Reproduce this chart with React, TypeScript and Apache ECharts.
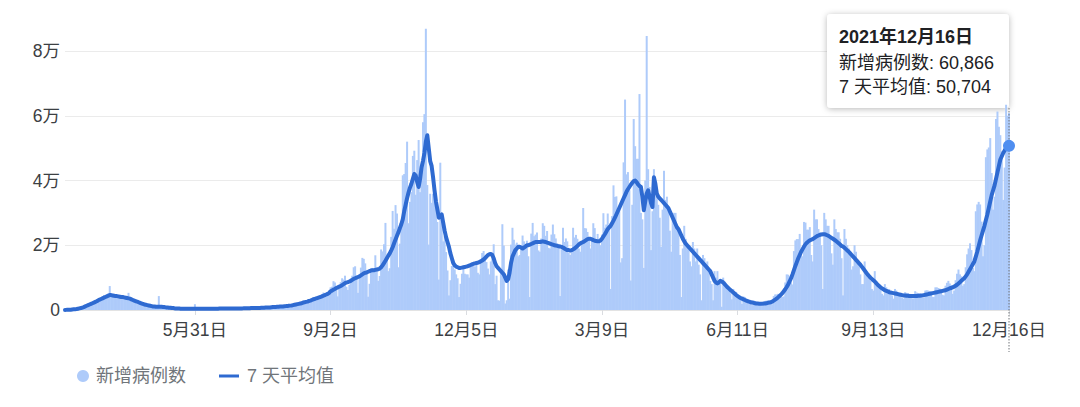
import React, { useEffect, useRef } from "react";
import * as echarts from "echarts";

// ---------- data (values in thousands of cases) ----------
const startDate = "2020-03-02";
const seriesNames = ["新增病例数", "7 天平均值"];
const yTicks = [0, 20000, 40000, 60000, 80000];
const labelStepDays = 94;

const casesK2020 = [
  // Mar (from 2nd)
  0.03,0.05,0.07,0.09,0.14,0.18,0.2,0.3,0.35,0.45,0.6,0.7,0.8,0.9,1.2,1.4,1.6,1.8,2.0,2.3,2.5,2.8,2.9,3.2,3.6,3.8,4.2,4.6,4.4,4.9,
  // Apr
  5.2,7.4,4.8,4.6,4.0,4.2,4.6,4.4,4.0,4.3,3.9,3.6,3.9,4.1,5.3,3.7,3.2,3.0,2.6,2.9,2.5,2.3,2.1,1.9,1.8,1.6,1.7,1.4,1.5,1.2,
  // May
  1.3,1.0,1.1,1.0,0.9,4.3,1.0,0.9,0.8,0.9,0.8,0.7,0.8,0.6,0.7,0.5,0.6,0.5,0.6,0.5,0.4,0.5,0.3,0.4,0.4,0.5,0.3,0.4,0.5,0.4,1.8,
  // Jun
  0.3,0.5,0.4,0.6,0.4,0.3,0.3,0.4,0.5,0.4,0.5,0.4,0.3,0.3,0.4,0.5,0.5,0.5,0.4,0.4,0.3,0.5,0.5,0.6,0.5,0.5,0.4,0.4,0.5,0.6,
  // Jul
  0.5,0.6,0.6,0.5,0.4,0.6,0.6,0.6,0.7,0.6,0.5,0.5,0.6,0.7,0.7,0.8,0.7,0.6,0.6,0.8,0.9,0.8,1.0,1.0,0.8,0.7,1.1,1.0,1.2,1.3,1.1,
  // Aug
  1.0,0.9,1.3,1.4,1.6,1.7,1.6,1.5,1.4,1.9,2.1,2.3,2.5,2.7,2.4,2.2,2.9,3.1,3.2,3.6,3.8,3.4,3.0,4.0,4.3,4.6,4.9,5.4,4.8,4.2,5.5,
  // Sep
  6.0,7.0,7.2,8.9,8.5,7.1,4.2,6.5,8.6,9.8,9.4,10.6,7.2,6.2,7.8,9.8,10.6,13.2,13.5,10.6,5.3,10.0,13.1,16.1,15.8,14.4,11.1,4.1,8.1,12.8,
  // Oct
  13.0,12.1,16.9,12.6,9.0,10.5,18.7,18.1,20.3,26.9,16.1,12.0,12.9,22.6,30.6,25.1,32.4,29.8,13.2,20.5,26.7,41.6,42.0,45.4,52.0,26.8,33.4,36.4,47.6,49.2,35.6,
  // Nov
  46.3,52.5,36.4,40.6,58.0,60.5,86.9,38.6,20.2,35.9,33.1,35.9,33.2,32.1,27.2,9.4,45.5,28.4,21.2,22.9,17.9,12.2,4.5,9.2,13.6,13.6,12.5,11.0,9.8,4.0,
  // Dec
  8.1,11.2,12.7,11.2,11.0,11.0,10.0,13.7,14.6,13.8,13.4,13.9,11.5,11.0,14.9,17.6,18.2,15.8,14.8,12.8,11.0,15.0,17.6,20.3,8.0,10.6,3.0,2.9,11.4,26.5,19.9,
];

const avgK2020 = [
  // Mar (from 2nd)
  0.03,0.04,0.06,0.08,0.1,0.15,0.2,0.25,0.3,0.4,0.5,0.6,0.75,0.9,1.1,1.3,1.5,1.7,1.9,2.1,2.3,2.5,2.7,3.0,3.2,3.4,3.6,3.8,4.0,4.2,
  // Apr
  4.4,4.6,4.6,4.5,4.4,4.3,4.3,4.2,4.1,4.0,4.0,3.9,3.8,3.7,3.6,3.5,3.3,3.1,2.9,2.7,2.6,2.4,2.2,2.0,1.9,1.7,1.6,1.5,1.4,1.3,
  // May
  1.2,1.1,1.1,1.0,1.0,1.0,1.0,1.0,0.9,0.9,0.8,0.8,0.7,0.7,0.6,0.6,0.5,0.5,0.5,0.5,0.4,0.4,0.4,0.4,0.4,0.4,0.4,0.4,0.4,0.4,0.4,
  // Jun
  0.4,0.4,0.4,0.4,0.4,0.4,0.4,0.4,0.4,0.4,0.4,0.4,0.4,0.4,0.4,0.4,0.45,0.45,0.45,0.45,0.45,0.45,0.45,0.5,0.5,0.5,0.5,0.5,0.5,0.5,
  // Jul
  0.5,0.5,0.5,0.55,0.55,0.55,0.55,0.55,0.6,0.6,0.6,0.6,0.6,0.65,0.65,0.7,0.7,0.7,0.75,0.75,0.8,0.8,0.85,0.9,0.9,0.95,1.0,1.0,1.05,1.1,1.1,
  // Aug
  1.15,1.2,1.2,1.3,1.35,1.4,1.5,1.6,1.7,1.8,1.9,2.0,2.1,2.3,2.4,2.5,2.6,2.8,2.9,3.1,3.3,3.4,3.6,3.7,3.9,4.0,4.2,4.4,4.6,4.8,5.0,
  // Sep
  5.3,5.8,6.0,6.3,6.5,6.8,7.0,7.2,7.4,7.7,8.0,8.3,8.5,8.6,8.8,9.0,9.3,9.6,9.8,10.0,10.2,10.4,10.7,11.0,11.3,11.5,11.6,11.8,12.0,12.2,
  // Oct
  12.3,12.3,12.4,12.5,12.6,12.8,13.2,13.8,14.5,15.2,16.0,16.8,17.5,18.4,19.4,20.6,21.8,22.9,24.0,25.3,26.5,28.0,30.5,32.5,34.5,36.3,37.8,39.0,40.5,42.0,41.5,
  // Nov
  39.5,38.0,40.5,44.0,46.0,48.5,52.0,54.0,50.0,46.0,44.5,41.0,37.0,33.5,31.0,28.5,29.0,29.5,27.0,24.5,22.5,21.0,19.5,17.5,16.0,14.5,13.8,13.4,13.2,13.0,
  // Dec
  13.0,13.1,13.2,13.3,13.4,13.5,13.7,13.9,14.1,14.3,14.4,14.5,14.6,14.8,15.0,15.3,15.6,16.0,16.5,17.0,17.2,17.3,17.0,16.0,14.5,13.5,13.0,12.5,12.0,11.5,11.0,
];

const casesK2021 = [
  // Jan
  2.0,3.0,12.5,3.5,20.2,25.4,21.7,20.2,20.8,16.6,17.0,19.9,23.0,21.2,20.3,21.4,16.6,4.0,23.6,26.9,22.8,23.3,23.9,18.4,18.0,22.1,26.8,26.0,22.9,24.4,19.2,
  // Feb
  19.0,23.3,26.4,23.4,22.1,20.6,19.7,4.3,18.9,25.4,21.0,22.1,21.2,17.7,17.0,18.8,25.4,22.4,23.2,22.0,19.0,18.0,20.1,31.5,25.3,25.2,24.1,22.0,
  // Mar
  19.0,22.0,26.8,25.3,21.8,23.5,21.8,20.0,23.3,29.9,25.4,26.4,29.8,26.3,6.5,29.0,38.5,34.9,35.1,30.6,30.8,14.7,16.0,45.6,65.0,41.9,42.6,37.0,9.1,32.5,59.0,
  // Apr
  50.6,46.7,46.7,66.7,30.0,28.0,13.0,40.0,84.6,43.5,38.0,18.5,30.5,43.5,38.0,37.0,32.5,28.5,19.5,31.0,43.0,34.0,35.0,30.5,24.5,18.0,30.0,30.0,30.0,26.0,
  // May
  24.0,17.0,4.0,19.0,26.0,22.0,20.0,20.0,15.0,13.5,21.0,19.0,15.0,19.0,14.0,11.0,3.0,17.0,16.0,14.0,15.0,12.0,9.0,8.0,3.0,12.0,10.0,12.0,9.0,8.0,1.0,
  // Jun
  10.0,8.8,7.8,7.4,6.3,5.2,3.3,6.5,5.6,5.6,4.7,4.0,3.2,1.9,4.2,4.0,3.3,3.2,2.8,2.0,1.5,3.0,2.7,2.5,2.3,2.0,1.6,1.2,2.3,2.8,
  // Jul
  2.9,3.0,2.5,2.1,1.8,4.3,4.8,4.8,5.0,4.6,4.0,4.0,4.2,8.5,11.0,10.9,10.3,8.5,7.9,18.2,21.5,21.9,21.9,23.5,18.3,16.6,27.2,27.0,24.8,24.8,25.6,
  // Aug
  17.0,15.0,31.0,28.0,28.0,25.0,24.0,20.0,6.5,30.0,28.0,26.0,26.0,23.0,17.5,14.0,28.0,25.0,24.0,24.0,22.0,16.0,4.5,25.0,22.0,20.0,19.0,18.0,12.5,13.5,20.0,
  // Sep
  18.0,15.0,14.0,11.0,8.0,8.0,15.0,12.0,11.0,10.0,9.0,6.5,6.0,12.0,9.0,8.0,8.0,6.5,5.0,4.5,8.0,7.0,6.5,6.5,5.5,4.5,3.5,6.5,6.0,5.5,
  // Oct
  5.0,4.8,3.8,3.5,5.5,5.3,5.2,5.0,4.6,3.6,3.6,5.8,5.4,5.2,5.1,4.9,3.7,3.8,6.0,6.1,6.0,5.8,5.6,4.1,4.0,7.0,7.0,6.8,6.6,6.2,4.7,
  // Nov
  4.5,7.5,8.4,9.0,8.2,7.7,5.0,6.0,9.2,11.2,12.5,11.0,10.4,7.5,8.0,13.2,17.2,19.0,20.6,18.5,13.0,12.0,30.5,32.6,33.4,32.6,27.3,16.6,20.0,47.2,
  // Dec (to 16th)
  49.6,50.2,53.1,42.3,31.0,35.0,59.0,61.3,56.6,54.0,49.0,34.0,44.0,63.4,60.0,60.866,
];

const avgK2021 = [
  // Jan
  10.0,9.0,9.5,11.5,14.5,16.5,17.5,18.5,19.0,19.5,19.5,19.3,19.0,19.3,19.6,20.0,20.0,20.2,20.4,20.6,20.8,21.0,21.0,21.0,21.0,21.1,21.2,21.1,21.0,20.8,20.7,
  // Feb
  20.5,20.3,20.2,20.0,19.9,19.8,19.7,19.6,19.5,19.3,19.0,18.7,18.5,18.5,18.4,18.5,18.7,19.0,19.4,19.8,20.2,20.6,20.8,21.0,21.3,21.6,21.9,22.0,
  // Mar
  22.0,21.8,21.6,21.4,21.3,21.2,21.2,21.5,22.0,22.7,23.4,24.2,25.0,25.5,26.0,26.8,27.6,28.5,29.5,30.5,31.5,32.5,33.5,34.5,35.5,36.5,37.3,38.0,38.7,39.3,39.8,
  // Apr
  40.0,39.5,38.8,38.3,38.0,35.0,30.8,33.5,36.0,37.0,35.0,33.0,31.8,41.0,39.0,36.0,35.0,34.5,34.0,33.5,33.0,32.5,32.0,31.5,30.5,29.5,28.5,27.5,26.5,25.5,
  // May
  25.0,24.0,23.0,22.0,21.2,20.5,20.0,19.5,19.0,18.5,18.0,17.5,17.0,16.5,16.0,15.5,15.0,14.5,14.0,13.5,13.0,12.5,12.0,11.0,10.0,9.0,8.5,8.2,8.5,9.0,8.8,
  // Jun
  8.5,8.0,7.5,7.0,6.6,6.2,5.8,5.4,5.0,4.6,4.3,4.0,3.7,3.5,3.3,3.1,2.9,2.7,2.6,2.4,2.3,2.2,2.1,2.0,2.0,1.9,1.9,1.9,2.0,2.0,
  // Jul
  2.1,2.2,2.3,2.4,2.6,2.9,3.2,3.5,3.9,4.3,4.7,5.2,5.8,6.4,7.1,7.9,8.8,9.8,11.0,12.3,13.6,14.8,16.0,17.0,18.0,18.8,19.6,20.3,20.8,21.2,21.5,
  // Aug
  21.7,21.9,22.2,22.5,22.8,23.0,23.2,23.3,23.4,23.4,23.3,23.1,22.9,22.6,22.3,22.0,21.7,21.4,21.0,20.6,20.2,19.8,19.6,19.2,18.8,18.4,18.0,17.5,17.0,16.5,16.0,
  // Sep
  15.5,15.0,14.5,14.0,13.4,12.8,12.2,11.6,11.0,10.5,10.0,9.6,9.2,8.8,8.3,7.8,7.4,7.0,6.7,6.4,6.1,5.9,5.7,5.5,5.4,5.3,5.2,5.1,5.0,4.9,
  // Oct
  4.8,4.7,4.6,4.5,4.5,4.4,4.4,4.3,4.3,4.3,4.3,4.3,4.3,4.4,4.4,4.5,4.5,4.6,4.7,4.8,4.9,5.0,5.1,5.2,5.3,5.4,5.5,5.6,5.7,5.8,5.9,
  // Nov
  6.0,6.1,6.3,6.5,6.7,6.8,7.0,7.2,7.5,7.8,8.2,8.6,9.0,9.4,9.8,10.4,11.0,11.8,12.6,13.4,14.2,15.0,16.5,18.0,19.8,21.5,23.0,24.5,26.0,27.8,
  // Dec (to 16th)
  29.5,31.5,33.5,35.5,37.0,38.5,40.5,42.5,44.5,46.5,47.5,48.5,49.3,50.0,50.4,50.704,
];

// ---------- derived ----------
const cases = [...casesK2020, ...casesK2021].map((v) => Math.round(v * 1000));
const avg = [...avgK2020, ...avgK2021].map((v) => Math.round(v * 1000));
const startMs = Date.parse(startDate + "T00:00:00Z");
const dates: string[] = cases.map((_, i) =>
  new Date(startMs + i * 86400000).toISOString().slice(0, 10)
);
const lastIdx = cases.length - 1;

const FONT = "'Liberation Sans', Arial, 'Noto Sans CJK SC', sans-serif";
const BAR_COLOR = "#aecbfa";
const LINE_COLOR = "#2e6ad1";
const TEXT_COLOR = "#3c4043";

const showLabel = (i: number) => (lastIdx - i) % labelStepDays === 0;
const fmtMD = (d: string) => `${parseInt(d.slice(5, 7), 10)}月${parseInt(d.slice(8, 10), 10)}日`;
const fmtYMD = (d: string) => `${d.slice(0, 4)}年${fmtMD(d)}`;
const fmtNum = (n: number) => n.toLocaleString("en-US");

export default function App() {
  const ref = useRef<HTMLDivElement>(null);

  useEffect(() => {
    if (!ref.current) return;
    const chart = echarts.init(ref.current, null, { renderer: "svg" });
    chart.setOption({
      animation: false,
      textStyle: { fontFamily: FONT },
      grid: { left: 65, right: 71, top: 51, bottom: 97, containLabel: false, outerBoundsMode: "none" },
      xAxis: {
        type: "category",
        data: dates,
        boundaryGap: false,
        axisLine: { show: true, lineStyle: { color: "#e3e3e3" } },
        axisTick: {
          show: true,
          interval: (i: number) => showLabel(i),
          length: 5,
          lineStyle: { color: "#dadce0" },
        },
        axisLabel: {
          interval: (i: number) => showLabel(i),
          formatter: (v: string) => fmtMD(v),
          color: TEXT_COLOR,
          fontSize: 17.5,
          fontFamily: FONT,
          margin: 11,
        },
        splitLine: { show: false },
      },
      yAxis: {
        type: "value",
        min: yTicks[0],
        max: yTicks[yTicks.length - 1],
        interval: yTicks[1] - yTicks[0],
        axisLine: { show: false },
        axisTick: { show: false },
        axisLabel: {
          formatter: (v: number) => (v === 0 ? "0" : `${v / 10000}万`),
          color: TEXT_COLOR,
          fontSize: 17.5,
          fontFamily: FONT,
          margin: 5,
        },
        splitLine: { lineStyle: { color: "#ebebeb", width: 1 } },
      },
      series: [
        {
          name: seriesNames[0],
          type: "bar",
          data: cases,
          barWidth: 2,
          itemStyle: { color: BAR_COLOR },
          clip: false,
          z: 1,
        },
        {
          name: seriesNames[1],
          type: "line",
          data: avg,
          showSymbol: false,
          symbol: "none",
          lineStyle: { color: LINE_COLOR, width: 4, join: "round", cap: "round" },
          z: 3,
        },
      ],
    });

    const [px, py] = chart.convertToPixel({ gridIndex: 0 }, [dates[lastIdx], avg[lastIdx]]) as number[];
    const boxW = 182;
    const boxH = 94;
    const boxX = px - boxW;
    const boxY = 14;
    const legendY = 376;

    chart.setOption({
      graphic: [
        {
          type: "line",
          z: 50,
          shape: { x1: px, y1: boxY + boxH, x2: px, y2: 352 },
          style: { stroke: "#70757a", lineWidth: 1, lineDash: [1.5, 1.5] },
        },
        {
          type: "circle",
          z: 51,
          shape: { cx: px, cy: py, r: 6 },
          style: { fill: "#4f8ef0" },
        },
        {
          type: "group",
          z: 60,
          children: [
            {
              type: "rect",
              shape: { x: boxX, y: boxY, width: boxW, height: boxH, r: 4 },
              style: {
                fill: "#ffffff",
                shadowBlur: 6,
                shadowColor: "rgba(0,0,0,0.28)",
                shadowOffsetY: 1,
              },
            },
            {
              type: "text",
              x: boxX + 12,
              y: 37,
              style: {
                text: fmtYMD(dates[lastIdx]),
                fontSize: 18,
                fontWeight: "bold",
                fontFamily: FONT,
                fill: "#202124",
                verticalAlign: "middle",
              },
            },
            {
              type: "text",
              x: boxX + 12,
              y: 63,
              style: {
                text: `${seriesNames[0]}: ${fmtNum(cases[lastIdx])}`,
                fontSize: 18,
                fontFamily: FONT,
                fill: "#202124",
                verticalAlign: "middle",
              },
            },
            {
              type: "text",
              x: boxX + 12,
              y: 87,
              style: {
                text: `${seriesNames[1]}: ${fmtNum(avg[lastIdx])}`,
                fontSize: 18,
                fontFamily: FONT,
                fill: "#202124",
                verticalAlign: "middle",
              },
            },
          ],
        },
        {
          type: "group",
          z: 40,
          children: [
            { type: "circle", shape: { cx: 83, cy: legendY, r: 6 }, style: { fill: BAR_COLOR } },
            {
              type: "text",
              x: 96,
              y: legendY,
              style: { text: seriesNames[0], fontSize: 18, fontFamily: FONT, fill: "#70757a", verticalAlign: "middle" },
            },
            { type: "rect", shape: { x: 219, y: legendY - 1.5, width: 20, height: 3 }, style: { fill: LINE_COLOR } },
            {
              type: "text",
              x: 247,
              y: legendY,
              style: { text: seriesNames[1], fontSize: 18, fontFamily: FONT, fill: "#70757a", verticalAlign: "middle" },
            },
          ],
        },
      ],
    });

    return () => chart.dispose();
  }, []);

  return (
    <div
      ref={ref}
      style={{ position: "fixed", left: 0, top: 0, width: 1080, height: 407, background: "#ffffff" }}
    />
  );
}
